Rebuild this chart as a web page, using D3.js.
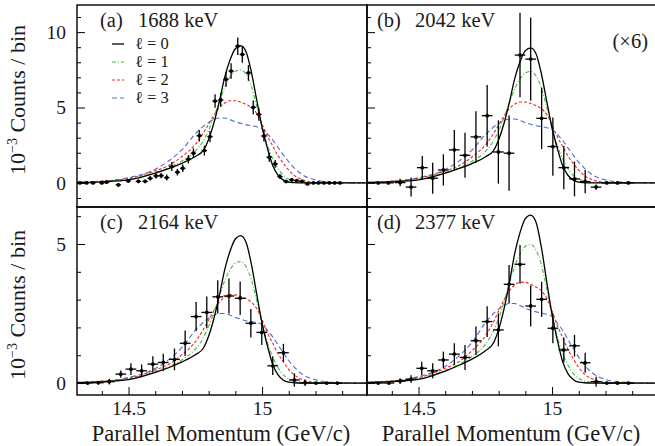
<!DOCTYPE html>
<html>
<head>
<meta charset="utf-8">
<script src="https://cdn.jsdelivr.net/npm/d3@7"></script>
<style>
body { margin: 0; background: #fff; }
svg text { font-family: "Liberation Serif", "DejaVu Serif", serif !important; fill: #1a1a1a; }
</style>
</head>
<body>
<script>
// fit curves (x in GeV/c)
const curveX = [14.30,14.40,14.50,14.60,14.65,14.70,14.75,14.78,14.80,14.82,14.84,14.86,14.88,14.90,14.92,14.94,14.96,14.98,15.00,15.02,15.04,15.06,15.08,15.10,15.12,15.15,15.20,15.25,15.40];

// order: l=0, l=1, l=2, l=3
const fitA = [
  [0.02,0.07,0.2,0.65,0.95,1.3,1.75,2.15,2.9,4.0,5.4,7.0,8.15,8.9,9.1,8.7,7.35,5.5,3.7,2.3,1.15,0.5,0.18,0.05,0.02,0,0,0,0],
  [0.03,0.1,0.25,0.7,1.0,1.45,2.1,2.8,3.5,4.4,5.4,6.3,7.0,7.4,7.5,7.2,6.4,5.1,3.7,2.5,1.6,0.95,0.5,0.25,0.12,0.04,0.01,0,0],
  [0.04,0.12,0.3,0.8,1.15,1.75,2.55,3.3,3.9,4.5,5.0,5.3,5.45,5.45,5.35,5.2,5.0,4.6,3.9,3.1,2.45,1.8,1.3,0.85,0.5,0.22,0.04,0.01,0],
  [0.05,0.1,0.35,0.9,1.45,2.2,3.25,3.75,4.0,4.2,4.3,4.3,4.2,4.05,3.95,3.85,3.8,3.72,3.6,3.25,2.85,2.35,1.85,1.4,1.0,0.55,0.2,0.06,0]
];
const fitB = [
  [0.02,0.07,0.2,0.64,0.94,1.28,1.72,2.12,2.86,3.94,5.32,6.9,8.03,8.77,8.96,8.57,7.24,5.42,3.64,2.27,1.13,0.49,0.18,0.05,0.02,0,0,0,0],
  [0.03,0.1,0.25,0.69,0.99,1.43,2.07,2.76,3.45,4.33,5.32,6.21,6.9,7.29,7.39,7.09,6.3,5.02,3.64,2.46,1.58,0.94,0.49,0.25,0.12,0.04,0.01,0,0],
  [0.04,0.12,0.3,0.79,1.13,1.72,2.51,3.25,3.84,4.43,4.93,5.22,5.37,5.37,5.27,5.12,4.93,4.53,3.84,3.05,2.41,1.77,1.28,0.84,0.49,0.22,0.04,0.01,0],
  [0.05,0.1,0.34,0.89,1.43,2.17,3.2,3.69,3.94,4.14,4.24,4.24,4.14,3.99,3.89,3.79,3.74,3.66,3.55,3.2,2.81,2.31,1.82,1.38,0.99,0.54,0.2,0.06,0]
];
const fitC = [
  [0.01,0.04,0.12,0.38,0.55,0.76,1.02,1.25,1.69,2.33,3.14,4.07,4.74,5.18,5.30,5.06,4.28,3.20,2.15,1.34,0.67,0.29,0.10,0.03,0.01,0,0,0,0],
  [0.02,0.06,0.15,0.41,0.58,0.84,1.22,1.63,2.04,2.56,3.14,3.67,4.07,4.31,4.37,4.19,3.72,2.97,2.15,1.46,0.93,0.55,0.29,0.15,0.07,0.02,0.01,0,0],
  [0.02,0.07,0.17,0.47,0.67,1.02,1.48,1.92,2.27,2.62,2.91,3.08,3.17,3.17,3.11,3.03,2.91,2.68,2.27,1.80,1.43,1.05,0.76,0.49,0.29,0.13,0.02,0.01,0],
  [0.03,0.06,0.20,0.52,0.84,1.28,1.89,2.18,2.33,2.44,2.50,2.50,2.44,2.36,2.30,2.24,2.21,2.17,2.10,1.89,1.66,1.37,1.08,0.81,0.58,0.32,0.12,0.03,0]
];
const fitD = [
  [0.01,0.05,0.13,0.43,0.63,0.86,1.16,1.43,1.93,2.66,3.59,4.65,5.41,5.91,6.04,5.78,4.88,3.65,2.46,1.53,0.76,0.33,0.12,0.03,0.01,0,0,0,0],
  [0.02,0.07,0.17,0.46,0.66,0.96,1.39,1.86,2.32,2.92,3.59,4.18,4.65,4.91,4.98,4.78,4.25,3.39,2.46,1.66,1.06,0.63,0.33,0.17,0.08,0.03,0.01,0,0],
  [0.03,0.08,0.20,0.53,0.76,1.16,1.69,2.19,2.59,2.99,3.32,3.52,3.62,3.62,3.55,3.45,3.32,3.05,2.59,2.06,1.63,1.20,0.86,0.56,0.33,0.15,0.03,0.01,0],
  [0.03,0.07,0.23,0.60,0.96,1.46,2.16,2.49,2.66,2.79,2.86,2.86,2.79,2.69,2.62,2.56,2.52,2.47,2.39,2.16,1.89,1.56,1.23,0.93,0.66,0.37,0.13,0.04,0]
];

// measured points: centre, value, error (10^-3 counts / bin)
const ptsAx = [14.318,14.343,14.367,14.400,14.418,14.462,14.499,14.537,14.562,14.581,14.603,14.622,14.643,14.662,14.683,14.703,14.724,14.743,14.765,14.784,14.805,14.824,14.845,14.865,14.884,14.909,14.926,14.949,14.967,14.988,15.007,15.027,15.049,15.067,15.090,15.111,15.130,15.149,15.170,15.192,15.211,15.232,15.252,15.272,15.292];
const ptsAy = [0,0,0,0,0.05,-0.13,0.13,0.10,0.10,0.30,0.46,0.48,0.35,1.08,0.71,0.97,1.57,1.97,3.13,2.14,3.07,5.43,5.50,6.87,7.42,9.07,8.52,7.30,5.01,4.55,3.11,1.70,1.26,0.42,0.09,0.20,0.15,0.10,-0.07,0,0,0,0,0,0];
const ptsAe = [0.05,0.05,0.05,0.05,0.08,0.12,0.12,0.12,0.12,0.15,0.17,0.18,0.2,0.3,0.22,0.25,0.28,0.32,0.38,0.33,0.37,0.45,0.45,0.5,0.52,0.58,0.55,0.52,0.45,0.43,0.36,0.3,0.26,0.17,0.1,0.12,0.1,0.08,0.06,0,0,0,0,0,0];

const ptsBx = [14.349,14.387,14.431,14.472,14.514,14.553,14.593,14.634,14.674,14.715,14.757,14.799,14.839,14.880,14.920,14.961,15.003,15.044,15.084,15.124,15.165,15.205,15.245,15.286];
const ptsBy = [0,0,0.02,-0.28,1.01,0.31,0.86,2.19,1.83,3.05,4.46,2.05,1.97,8.48,8.21,4.28,2.41,1.01,0.26,0.09,-0.28,0,0,0];
const ptsBe = [0,0,0.25,0.63,0.77,1.03,1.04,1.32,1.49,1.71,2.04,2.1,2.5,2.8,2.76,2.04,1.93,1.43,1.15,0.77,0.18,0,0,0];

const ptsCx = [14.347,14.387,14.428,14.471,14.509,14.549,14.591,14.630,14.672,14.712,14.753,14.793,14.834,14.876,14.918,14.958,14.999,15.040,15.080,15.121,15.161,15.202,15.242,15.282];
const ptsCy = [0,0.01,0.05,0.32,0.50,0.44,0.68,0.74,0.85,1.43,2.39,2.54,3.10,3.13,3.05,2.15,1.82,0.62,1.09,0.11,0.01,0,0,0];
const ptsCe = [0,0.05,0.1,0.13,0.21,0.23,0.28,0.31,0.39,0.46,0.52,0.57,0.60,0.63,0.60,0.51,0.45,0.33,0.32,0.24,0.12,0,0,0];

const ptsDx = [14.349,14.389,14.431,14.472,14.512,14.553,14.593,14.634,14.674,14.715,14.757,14.799,14.839,14.880,14.920,14.961,15.003,15.044,15.084,15.124,15.165,15.205,15.245,15.286];
const ptsDy = [0,0,0.07,0.14,0.53,0.44,0.83,1.04,0.92,1.52,2.21,1.91,3.55,4.27,2.77,3.01,1.97,1.19,1.34,0.73,0.05,0,0,0];
const ptsDe = [0,0,0.1,0.14,0.24,0.27,0.30,0.39,0.45,0.51,0.55,0.59,0.69,0.69,0.74,0.63,0.54,0.45,0.39,0.36,0.18,0,0,0];

const panelTags = ["(a)", "(b)", "(c)", "(d)"];
const energies = ["1688 keV", "2042 keV", "2164 keV", "2377 keV"];
const lValues = [0, 1, 2, 3];
const xTicks = [14.5, 15];

// line styles for l = 0..3
const styles = [
  {color: "#000", dash: null, w: 1.3},
  {color: "#3cbf3c", dash: "4,2,1,2", w: 1.1},
  {color: "#f22424", dash: "3,2", w: 1.1},
  {color: "#4d6ccf", dash: "5,3", w: 1.1}
];

const W = 655, H = 446;
const pw = 290;
const xDom = [14.307, 15.393];
const serif = "'Liberation Serif', 'DejaVu Serif', serif";

let svg = d3.select("body").append("svg")
    .attr("width", W)
    .attr("height", H)
    .attr("font-family", serif);

let panels = [
  {x0: 77,  y0: 5,   h: 202, yDom: [-1.6, 11.8], major: [0, 5, 10], labels: true,  px: ptsAx, py: ptsAy, pe: ptsAe, fit: fitA, xe: 0.01},
  {x0: 367, y0: 5,   h: 202, yDom: [-1.6, 11.8], major: [0, 5, 10], labels: false, px: ptsBx, py: ptsBy, pe: ptsBe, fit: fitB, xe: 0.02},
  {x0: 77,  y0: 207, h: 188, yDom: [-0.43, 6.33], major: [0, 5],   labels: true,  px: ptsCx, py: ptsCy, pe: ptsCe, fit: fitC, xe: 0.02},
  {x0: 367, y0: 207, h: 188, yDom: [-0.43, 6.33], major: [0, 5],   labels: false, px: ptsDx, py: ptsDy, pe: ptsDe, fit: fitD, xe: 0.02}
];

panels.forEach(function(p, k) {
  let g = svg.append("g").attr("transform", "translate(" + p.x0 + "," + p.y0 + ")");
  let x = d3.scaleLinear().domain(xDom).range([0, pw]);
  let y = d3.scaleLinear().domain(p.yDom).range([p.h, 0]);

  g.append("clipPath").attr("id", "clip" + k)
    .append("rect").attr("width", pw).attr("height", p.h);
  let plot = g.append("g").attr("clip-path", "url(#clip" + k + ")");

  // fit curves, l=3 drawn first so l=0 sits on top
  let line = d3.line()
      .x(function(d) { return x(d[0]); })
      .y(function(d) { return y(d[1]); })
      .curve(d3.curveMonotoneX);
  [3, 2, 1, 0].forEach(function(l) {
    let s = styles[l];
    plot.append("path")
      .datum(curveX.map(function(v, i) { return [v, p.fit[l][i]]; }))
      .attr("d", line)
      .attr("fill", "none")
      .attr("stroke", s.color)
      .attr("stroke-width", s.w)
      .attr("stroke-dasharray", s.dash);
  });

  // data points with error bars
  let pts = p.px.map(function(v, i) { return {x: v, y: p.py[i], e: p.pe[i]}; });
  let pg = plot.append("g").attr("stroke", "#000").attr("stroke-width", 1.3);
  pg.selectAll(".ey").data(pts).enter().append("line")
    .attr("x1", function(d) { return x(d.x); })
    .attr("x2", function(d) { return x(d.x); })
    .attr("y1", function(d) { return y(d.y - d.e); })
    .attr("y2", function(d) { return y(d.y + d.e); });
  pg.selectAll(".ex").data(pts).enter().append("line")
    .attr("x1", function(d) { return x(d.x - p.xe); })
    .attr("x2", function(d) { return x(d.x + p.xe); })
    .attr("y1", function(d) { return y(d.y); })
    .attr("y2", function(d) { return y(d.y); });
  plot.selectAll("circle").data(pts).enter().append("circle")
    .attr("cx", function(d) { return x(d.x); })
    .attr("cy", function(d) { return y(d.y); })
    .attr("r", 1.9)
    .attr("fill", "#000");

  // y ticks (inside)
  let minorY = d3.range(Math.ceil(p.yDom[0]), Math.floor(p.yDom[1]) + 1).filter(function(v) { return p.major.indexOf(v) < 0; });
  g.append("g")
    .call(d3.axisLeft(y).tickValues(minorY).tickSize(-4).tickFormat(""))
    .call(function(a) { a.select(".domain").remove(); });
  let ya = g.append("g")
    .call(d3.axisLeft(y).tickValues(p.major).tickSize(-8).tickPadding(11)
      .tickFormat(p.labels ? d3.format("d") : ""))
    .call(function(a) { a.select(".domain").remove(); });
  ya.attr("font-family", serif).attr("font-size", 19.5);

  // x ticks on the lower row only
  if (k >= 2) {
    let minorX = d3.range(14.4, 15.35, 0.1).filter(function(v) { return Math.abs(v - 14.5) > 0.01 && Math.abs(v - 15) > 0.01; });
    g.append("g").attr("transform", "translate(0," + p.h + ")")
      .call(d3.axisBottom(x).tickValues(minorX).tickSize(-4).tickFormat(""))
      .call(function(a) { a.select(".domain").remove(); });
    let xa = g.append("g").attr("transform", "translate(0," + p.h + ")")
      .call(d3.axisBottom(x).tickValues(xTicks).tickSize(-8).tickPadding(6)
        .tickFormat(function(d) { return d === 15 ? "15" : "14.5"; }))
      .call(function(a) { a.select(".domain").remove(); });
    xa.attr("font-family", serif).attr("font-size", 19.5);

    g.append("text")
      .attr("x", pw / 2 - 1)
      .attr("y", p.h + 46)
      .attr("text-anchor", "middle")
      .attr("font-size", 22.5)
      .text("Parallel Momentum (GeV/c)");
  }

  // frame
  g.append("rect")
    .attr("width", pw).attr("height", p.h)
    .attr("fill", "none").attr("stroke", "#000").attr("stroke-width", 1.4);

  // panel label
  g.append("text").attr("x", k % 2 ? 10 : 23).attr("y", 22).attr("font-size", 20.5).text(panelTags[k]);
  g.append("text").attr("x", k % 2 ? 48 : 61).attr("y", 22).attr("font-size", 20.5).text(energies[k]);

  if (k === 1) {
    g.append("text").attr("x", 281).attr("y", 43).attr("text-anchor", "end")
      .attr("font-size", 20.5).text("(\u00d76)");
  }

  // y title, left column only
  if (k % 2 === 0) {
    let yt = svg.append("text")
      .attr("transform", "translate(25," + (p.y0 + p.h / 2 - (k === 0 ? 6 : -4)) + ") rotate(-90)")
      .attr("text-anchor", "middle")
      .attr("font-size", 22);
    yt.append("tspan").text("10");
    yt.append("tspan").attr("font-size", 14).attr("dy", -8).text("\u22123");
    yt.append("tspan").attr("dy", 8).text(" Counts / bin");
  }

  // legend in panel (a)
  if (k === 0) {
    lValues.forEach(function(l, i) {
      let ly = 38 + i * 18;
      let s = styles[l];
      g.append("line")
        .attr("x1", 35).attr("x2", 47).attr("y1", ly + 1).attr("y2", ly + 1)
        .attr("stroke", s.color).attr("stroke-width", s.w)
        .attr("stroke-dasharray", s.dash);
      g.append("text").attr("x", 58).attr("y", ly + 6).attr("font-size", 16.5)
        .text("\u2113 = " + l);
    });
  }
});
</script>
</body>
</html>
